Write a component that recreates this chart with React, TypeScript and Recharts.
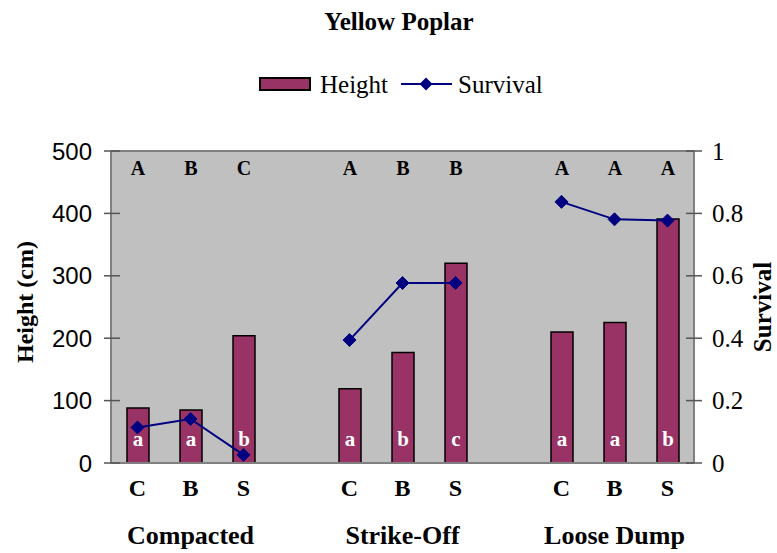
import React from 'react';
import {
  ComposedChart, Bar, Line, XAxis, YAxis, CartesianGrid, ReferenceLine, LabelList,
} from 'recharts';

// ---- data ----
const categories = ['C', 'B', 'S', '', 'C', 'B', 'S', '', 'C', 'B', 'S'];
const heightValues: (number | null)[] = [88, 85, 204, null, 119, 177, 320, null, 210, 225, 391];
const survivalValues: (number | null)[] = [0.114, 0.141, 0.026, null, 0.394, 0.577, 0.577, null, 0.837, 0.781, 0.777];
const topLetters = ['A', 'B', 'C', '', 'A', 'B', 'B', '', 'A', 'A', 'A'];
const barLetters = ['a', 'a', 'b', '', 'a', 'b', 'c', '', 'a', 'a', 'b'];
const groupLabels = ['Compacted', 'Strike-Off', 'Loose Dump'];
const heightTicks = [0, 100, 200, 300, 400, 500];
const survivalTicks = [0, 0.2, 0.4, 0.6, 0.8, 1];
const title = 'Yellow Poplar';
const seriesNames = { height: 'Height', survival: 'Survival' };
const yLeftTitle = 'Height (cm)';
const yRightTitle = 'Survival';

const data = categories.map((cat, i) => ({
  cat,
  height: heightValues[i],
  survival: survivalValues[i],
  top: topLetters[i],
  inner: barLetters[i],
}));

// ---- style ----
const W = 777;
const H = 553;
const PLOT_TOP = 151;
const LEFT_W = 111;
const RIGHT_W = 83;
const X_H = 90;
const SERIF = '"Liberation Serif", "Times New Roman", serif';
const SANS = '"Liberation Sans", Arial, sans-serif';
const BAR_FILL = '#993366';
const LINE_COLOR = '#000080';
const BG = '#C0C0C0';
const BORDER = '#808080';
const TICK_COLOR = '#555555';

const Diamond = (props: any) => {
  const { cx, cy, value } = props;
  if (value == null || cx == null || cy == null || isNaN(cy)) return null;
  const r = 6.5;
  return (
    <polygon
      points={`${cx},${cy - r} ${cx + r},${cy} ${cx},${cy + r} ${cx - r},${cy}`}
      fill={LINE_COLOR}
      stroke={LINE_COLOR}
      strokeWidth={1}
    />
  );
};

const LeftTick = (props: any) => {
  const { x, y, payload } = props;
  return (
    <g>
      <line x1={x - 7} x2={x + 9} y1={y} y2={y} stroke={TICK_COLOR} strokeWidth={1.5} />
      <text x={x - 19} y={y} textAnchor="end" dominantBaseline="central" fontFamily={SANS} fontSize={24} fill="#000">
        {payload.value}
      </text>
    </g>
  );
};

const RightTick = (props: any) => {
  const { x, y, payload } = props;
  return (
    <g>
      <line x1={x - 8} x2={x + 8} y1={y} y2={y} stroke={TICK_COLOR} strokeWidth={1.5} />
      <text x={x + 18} y={y} textAnchor="start" dominantBaseline="central" fontFamily={SERIF} fontSize={25} fill="#000">
        {payload.value}
      </text>
    </g>
  );
};

const XTick = (props: any) => {
  const { x, y, payload, index } = props;
  const idx = payload && payload.index != null ? payload.index : index;
  const cat = categories[idx];
  const isMid = idx % 4 === 1;
  return (
    <g>
      {cat ? (
        <text x={x} y={y + 33} textAnchor="middle" fontFamily={SERIF} fontWeight="bold" fontSize={24} fill="#000">
          {cat}
        </text>
      ) : null}
      {isMid ? (
        <text x={x} y={y + 81} textAnchor="middle" fontFamily={SERIF} fontWeight="bold" fontSize={26} fill="#000">
          {groupLabels[Math.floor(idx / 4)]}
        </text>
      ) : null}
    </g>
  );
};

const TopLetter = (props: any) => {
  const { x, width, value } = props;
  if (!value) return null;
  return (
    <text x={x + width / 2} y={PLOT_TOP + 24} textAnchor="middle" fontFamily={SERIF} fontWeight="bold" fontSize={20} fill="#000">
      {value}
    </text>
  );
};

const InnerLetter = (props: any) => {
  const { x, y, width, height, value } = props;
  if (!value) return null;
  return (
    <text x={x + width / 2} y={y + height - 17} textAnchor="middle" fontFamily={SERIF} fontWeight="bold" fontSize={21} fill="#fff">
      {value}
    </text>
  );
};

export default function App() {
  return (
    <div style={{ position: 'absolute', left: 0, top: 0, width: W, height: H, background: '#fff' }}>
      <ComposedChart
        width={W}
        height={H}
        data={data}
        margin={{ top: PLOT_TOP, right: 0, bottom: 0, left: 0 }}
        barCategoryGap={0}
      >
        <CartesianGrid yAxisId="h" fill={BG} fillOpacity={1} horizontal={false} vertical={false} />
        <XAxis
          dataKey="cat"
          height={X_H}
          tick={<XTick />}
          tickLine={false}
          tickSize={0}
          tickMargin={0}
          interval={0}
          axisLine={{ stroke: BORDER, strokeWidth: 2 }}
        />
        <YAxis
          yAxisId="h"
          orientation="left"
          width={LEFT_W}
          domain={[0, 500]}
          ticks={heightTicks}
          tick={<LeftTick />}
          tickLine={false}
          tickSize={0}
          tickMargin={0}
          axisLine={{ stroke: BORDER, strokeWidth: 2 }}
          interval={0}
        />
        <YAxis
          yAxisId="s"
          orientation="right"
          width={RIGHT_W}
          domain={[0, 1]}
          ticks={survivalTicks}
          tick={<RightTick />}
          tickLine={false}
          tickSize={0}
          tickMargin={0}
          axisLine={{ stroke: BORDER, strokeWidth: 2 }}
          interval={0}
        />
        <ReferenceLine yAxisId="h" y={500} stroke={BORDER} strokeWidth={2} />
        <Bar
          yAxisId="h"
          dataKey="height"
          name={seriesNames.height}
          fill={BAR_FILL}
          stroke="#000"
          strokeWidth={1.5}
          barSize={22}
          isAnimationActive={false}
        >
          <LabelList dataKey="top" content={<TopLetter />} />
          <LabelList dataKey="inner" content={<InnerLetter />} />
        </Bar>
        <Line
          yAxisId="s"
          dataKey="survival"
          name={seriesNames.survival}
          stroke={LINE_COLOR}
          strokeWidth={2}
          dot={<Diamond />}
          activeDot={false}
          connectNulls={false}
          isAnimationActive={false}
          type="linear"
        />
      </ComposedChart>
      <svg
        width={W}
        height={H}
        style={{ position: 'absolute', left: 0, top: 0, pointerEvents: 'none' }}
      >
        <text x={399} y={30} textAnchor="middle" fontFamily={SERIF} fontWeight="bold" fontSize={25} fill="#000">
          {title}
        </text>
        <rect x={260} y={78} width={50} height={12} fill={BAR_FILL} stroke="#000" strokeWidth={2} />
        <text x={320} y={93} fontFamily={SERIF} fontSize={25} fill="#000">{seriesNames.height}</text>
        <line x1={401} x2={452} y1={84} y2={84} stroke={LINE_COLOR} strokeWidth={2} />
        <polygon points="426,77.5 432.5,84 426,90.5 419.5,84" fill={LINE_COLOR} />
        <text x={458} y={93} fontFamily={SERIF} fontSize={25} fill="#000">{seriesNames.survival}</text>
        <text
          transform="translate(33, 302) rotate(-90)"
          textAnchor="middle"
          fontFamily={SERIF}
          fontWeight="bold"
          fontSize={24}
          fill="#000"
        >
          {yLeftTitle}
        </text>
        <text
          transform="translate(771, 307) rotate(-90)"
          textAnchor="middle"
          fontFamily={SERIF}
          fontWeight="bold"
          fontSize={25}
          fill="#000"
        >
          {yRightTitle}
        </text>
      </svg>
    </div>
  );
}
